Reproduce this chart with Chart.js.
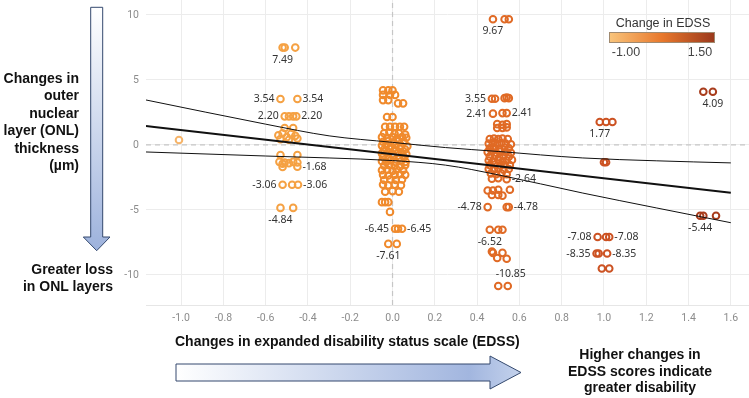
<!DOCTYPE html>
<html>
<head>
<meta charset="utf-8">
<script src="https://cdn.jsdelivr.net/npm/chart.js@4.4.1/dist/chart.umd.min.js"></script>
<style>
  body { margin: 0; background: #fff; }
  #wrap { position: relative; width: 749px; height: 398px; overflow: hidden; font-family: "Liberation Sans", Arial, sans-serif; }
  #chart { position: absolute; left: 0; top: 0; }
  #arrows { position: absolute; left: 0; top: 0; pointer-events: none; }
  .note { position: absolute; font-weight: bold; font-size: 14px; color: #111; white-space: nowrap; }
</style>
</head>
<body>
<div id="wrap">
  <canvas id="chart" width="749" height="398"></canvas>
  <svg id="arrows" width="749" height="398">
    <defs>
      <linearGradient id="gv" x1="0" y1="0" x2="0" y2="1">
        <stop offset="0" stop-color="#ffffff"/>
        <stop offset="1" stop-color="#9db2dc"/>
      </linearGradient>
      <linearGradient id="gh" x1="0" y1="0" x2="1" y2="0">
        <stop offset="0" stop-color="#ffffff"/>
        <stop offset="0.85" stop-color="#a2b6df"/>
        <stop offset="1" stop-color="#c4d2ec"/>
      </linearGradient>
    </defs>
    <path d="M90.7,7.3 H102.7 V237 H110 L96.7,250.7 L83.3,237 H90.7 Z" fill="url(#gv)" stroke="#34496e" stroke-width="1"/>
    <path d="M176,364 H490 V356 L521,372.5 L490,389 V381 H176 Z" fill="url(#gh)" stroke="#34496e" stroke-width="1"/>
  </svg>
  <div class="note" style="right:670px; top:70px; text-align:right; line-height:17.4px;">Changes in<br>outer<br>nuclear<br>layer (ONL)<br>thickness<br>(µm)</div>
  <div class="note" style="right:636px; top:261px; text-align:right; line-height:17px;">Greater loss<br>in ONL layers</div>
  <div class="note" style="left:175px; top:332px; line-height:18px;">Changes in expanded disability status scale (EDSS)</div>
  <div class="note" style="left:540px; top:346px; width:200px; text-align:center; line-height:16.5px;">Higher changes in<br>EDSS scores indicate<br>greater disability</div>
</div>
<script>
// axis ranges and ticks
const X_MIN = -1.166, X_MAX = 1.686;
const Y_MIN = -12.31, Y_MAX = 11.15;
const xTicks = [-1.0, -0.8, -0.6, -0.4, -0.2, 0.0, 0.2, 0.4, 0.6, 0.8, 1.0, 1.2, 1.4, 1.6];
const yTicks = [-10, -5, 0, 5, 10];

// colour key for change in EDSS
const legendTitle = 'Change in EDSS';
const legendLabels = ['-1.00', '1.50'];
const legendColors = ['#f9c57c', '#e8782c', '#9a381c'];

// one group per EDSS change level (x is jittered around the level)
const groupColors = ['#f6b469', '#f5a143', '#f08a2c', '#e06a25', '#cc5222', '#a83c1c'];

const gM10x = [-1.01];
const gM10y = [0.38];

const gM05x = [-0.52, -0.51, -0.46, -0.53, -0.45, -0.51, -0.49, -0.47, -0.455, -0.51, -0.47,
  -0.54, -0.52, -0.50, -0.48, -0.46, -0.45, -0.53, -0.49, -0.53, -0.45,
  -0.535, -0.52, -0.51, -0.49, -0.47, -0.45, -0.45, -0.52, -0.52, -0.475, -0.447, -0.53, -0.47];
const gM05y = [7.49, 7.49, 7.49, 3.54, 3.54, 2.20, 2.20, 2.20, 2.20, 1.3, 1.3,
  0.75, 0.9, 0.6, 0.85, 0.7, 0.5, 0.45, 0.4, -0.77, -0.77,
  -1.3, -1.45, -1.35, -1.4, -1.3, -1.35, -1.68, -1.7, -3.06, -3.06, -3.06, -4.84, -4.84];

const g00x = [-0.045, -0.02, 0.0, -0.045, -0.012, 0.012, -0.045, -0.02, 0.026, 0.05, -0.026, 0.0,
  -0.035, -0.012, 0.012, 0.035, 0.055,
  -0.04, -0.015, 0.01, 0.03, 0.06,
  -0.05, -0.025, 0.0, 0.02, 0.045, 0.065,
  -0.045, -0.02, 0.005, 0.03, 0.055,
  -0.05, -0.03, -0.005, 0.015, 0.04, 0.07,
  -0.04, -0.015, 0.01, 0.035, 0.06,
  -0.05, -0.025, 0.0, 0.025, 0.045, 0.065,
  -0.045, -0.02, 0.005, 0.03, 0.055,
  -0.05, -0.03, -0.01, 0.015, 0.04, 0.062,
  -0.04, -0.015, 0.01, 0.035, 0.06,
  -0.05, -0.025, 0.0, 0.02, 0.05,
  -0.045, -0.02, 0.01, 0.035, 0.06,
  -0.04, -0.01, 0.015, 0.045,
  -0.045, -0.02, 0.01, 0.04,
  -0.035, 0.0, 0.03,
  -0.05, -0.035, -0.02, -0.012,
  0.012, 0.026, 0.045, -0.02, 0.02];
const g00y = [4.2, 4.2, 4.2, 3.85, 3.85, 3.85, 3.45, 3.45, 3.2, 3.2, 2.15, 2.15,
  1.4, 1.4, 1.4, 1.4, 1.4,
  0.9, 0.95, 0.85, 0.9, 0.8,
  0.6, 0.55, 0.6, 0.5, 0.6, 0.55,
  0.25, 0.3, 0.2, 0.3, 0.25,
  -0.05, 0.0, -0.1, 0.0, -0.05, -0.1,
  -0.35, -0.3, -0.4, -0.3, -0.35,
  -0.65, -0.6, -0.7, -0.6, -0.65, -0.7,
  -0.95, -1.0, -0.9, -1.0, -0.95,
  -1.25, -1.3, -1.2, -1.3, -1.25, -1.3,
  -1.6, -1.55, -1.6, -1.65, -1.55,
  -1.95, -1.9, -2.0, -1.9, -1.95,
  -2.3, -2.35, -2.3, -2.25, -2.3,
  -2.7, -2.65, -2.7, -2.65,
  -3.05, -3.1, -3.05, -3.1,
  -3.6, -3.55, -3.6,
  -4.4, -4.4, -4.4, -5.15,
  -6.45, -6.45, -6.45, -7.61, -7.61];

const g05x = [0.475, 0.53, 0.55, 0.47, 0.485, 0.53, 0.54, 0.55, 0.475, 0.52, 0.54,
  0.495, 0.52, 0.54, 0.495, 0.52, 0.54,
  0.46, 0.48, 0.50, 0.52, 0.545,
  0.455, 0.475, 0.495, 0.515, 0.535, 0.56,
  0.46, 0.48, 0.505, 0.53, 0.55,
  0.45, 0.47, 0.49, 0.51, 0.535, 0.56,
  0.46, 0.485, 0.505, 0.525, 0.55,
  0.455, 0.475, 0.5, 0.52, 0.54, 0.565,
  0.46, 0.485, 0.51, 0.53, 0.555,
  0.455, 0.48, 0.5, 0.525, 0.55,
  0.465, 0.49, 0.515, 0.54,
  0.47, 0.5, 0.54,
  0.45, 0.475, 0.5, 0.555, 0.47, 0.5, 0.52,
  0.45, 0.54, 0.55, 0.46, 0.5, 0.52,
  0.47, 0.475, 0.52, 0.495, 0.54, 0.5, 0.545];
const g05y = [9.67, 9.67, 9.67, 3.55, 3.55, 3.6, 3.65, 3.6, 2.41, 2.45, 2.45,
  1.6, 1.55, 1.6, 1.3, 1.3, 1.35,
  0.45, 0.5, 0.45, 0.5, 0.45,
  0.1, 0.15, 0.05, 0.15, 0.1, 0.05,
  -0.25, -0.2, -0.3, -0.2, -0.25,
  -0.55, -0.5, -0.6, -0.5, -0.55, -0.6,
  -0.9, -0.85, -0.95, -0.85, -0.9,
  -1.2, -1.25, -1.15, -1.25, -1.2, -1.15,
  -1.55, -1.5, -1.6, -1.5, -1.55,
  -1.85, -1.9, -1.8, -1.9, -1.85,
  -2.2, -2.25, -2.2, -2.25,
  -2.6, -2.55, -2.64,
  -3.5, -3.5, -3.45, -3.45, -3.85, -3.85, -3.9,
  -4.78, -4.78, -4.78, -6.52, -6.52, -6.52,
  -8.2, -8.3, -8.3, -8.7, -8.75, -10.85, -10.85];

const g10x = [0.98, 1.01, 1.04, 1.0, 1.01, 0.97, 1.01, 1.025, 0.965, 0.975, 1.015, 0.99, 1.025];
const g10y = [1.77, 1.77, 1.77, -1.33, -1.33, -7.08, -7.08, -7.08, -8.35, -8.35, -8.35, -9.5, -9.5];

const g15x = [1.47, 1.515, 1.455, 1.47, 1.53];
const g15y = [4.09, 4.09, -5.44, -5.44, -5.44];

// fitted line and its confidence band
const fitX = [-1.166, 1.6];
const fitY = [1.46, -3.67];
const bandX = [-1.166, -0.6, -0.3, 0, 0.25, 0.5, 0.9, 1.25, 1.6];
const bandUp = [3.46, 1.6, 0.7, 0.2, -0.2, -0.5, -1.0, -1.22, -1.38];
const bandLo = [-0.54, -0.85, -1.0, -1.2, -1.55, -2.3, -3.7, -4.85, -5.98];

// value labels: text, x, y, side
const valueLabels = [
  ['7.49', -0.52, 7.49, 'below'],
  ['3.54', -0.53, 3.54, 'left'], ['3.54', -0.45, 3.54, 'right'],
  ['2.20', -0.51, 2.20, 'left'], ['2.20', -0.455, 2.20, 'right'],
  ['-1.68', -0.45, -1.68, 'right'],
  ['-3.06', -0.52, -3.06, 'left'], ['-3.06', -0.447, -3.06, 'right'],
  ['-4.84', -0.53, -4.84, 'below'],
  ['9.67', 0.475, 9.67, 'below'],
  ['3.55', 0.47, 3.55, 'left'],
  ['2.41', 0.475, 2.41, 'left'], ['2.41', 0.54, 2.45, 'right'],
  ['-2.64', 0.54, -2.64, 'right'],
  ['-4.78', 0.45, -4.78, 'left'], ['-4.78', 0.55, -4.78, 'right'],
  ['-6.52', 0.46, -6.52, 'below'],
  ['-10.85', 0.545, -10.85, 'above'],
  ['-6.45', 0.012, -6.45, 'left'], ['-6.45', 0.045, -6.45, 'right'],
  ['-7.61', -0.02, -7.61, 'below'],
  ['1.77', 0.98, 1.77, 'below'],
  ['4.09', 1.515, 4.09, 'below'],
  ['-7.08', 0.97, -7.08, 'left'], ['-7.08', 1.025, -7.08, 'right'],
  ['-8.35', 0.965, -8.35, 'left'], ['-8.35', 1.015, -8.35, 'right'],
  ['-5.44', 1.455, -5.44, 'below']
];

const zip = (xs, ys) => xs.map((x, i) => ({ x: x, y: ys[i] }));

const groups = [[gM10x, gM10y], [gM05x, gM05y], [g00x, g00y], [g05x, g05y], [g10x, g10y], [g15x, g15y]];
const pointSets = groups.map((g, i) => ({
  type: 'scatter',
  data: zip(g[0], g[1]),
  borderColor: groupColors[i],
  backgroundColor: 'rgba(0,0,0,0)',
  borderWidth: 2,
  pointRadius: 3.3,
  order: 2
}));

const lineSet = (data, width) => ({
  type: 'line',
  data: data,
  borderColor: '#111',
  borderWidth: width,
  pointRadius: 0,
  fill: false,
  cubicInterpolationMode: 'monotone',
  order: 1
});

const zeroSet = (data) => ({
  type: 'line',
  data: data,
  borderColor: '#c6c6c6',
  borderWidth: 1.2,
  borderDash: [5, 4],
  pointRadius: 0,
  fill: false,
  order: 3
});

const labelPlugin = {
  id: 'valueLabels',
  afterDatasetsDraw(chart) {
    const { ctx, scales: { x, y } } = chart;
    ctx.save();
    ctx.font = '10.5px "Noto Sans", sans-serif';
    ctx.fillStyle = '#333';
    ctx.textBaseline = 'middle';
    valueLabels.forEach(([t, vx, vy, side]) => {
      const px = x.getPixelForValue(vx), py = y.getPixelForValue(vy);
      if (side === 'left') { ctx.textAlign = 'right'; ctx.fillText(t, px - 6, py); }
      else if (side === 'right') { ctx.textAlign = 'left'; ctx.fillText(t, px + 5, py); }
      else if (side === 'below') { ctx.textAlign = 'center'; ctx.fillText(t, px, py + 12); }
      else { ctx.textAlign = 'center'; ctx.fillText(t, px + 3, py - 12); }
    });
    ctx.restore();
  }
};

const colourKey = {
  id: 'colourKey',
  afterDraw(chart) {
    const ctx = chart.ctx;
    ctx.save();
    ctx.font = '12.5px "Liberation Sans", Arial, sans-serif';
    ctx.fillStyle = '#333';
    ctx.textAlign = 'center';
    ctx.textBaseline = 'middle';
    ctx.fillText(legendTitle, 663, 24);
    const g = ctx.createLinearGradient(609, 0, 715, 0);
    legendColors.forEach((c, i) => g.addColorStop(i / (legendColors.length - 1), c));
    ctx.fillStyle = g;
    ctx.fillRect(609, 32, 106, 11);
    ctx.strokeStyle = '#a08a70';
    ctx.lineWidth = 1;
    ctx.strokeRect(609.5, 32.5, 105, 10);
    ctx.fillStyle = '#444';
    ctx.fillText(legendLabels[0], 626, 53);
    ctx.fillText(legendLabels[1], 700, 53);
    ctx.restore();
  }
};

const setTicks = (values) => (scale) => {
  scale.ticks = values.map(v => ({ value: v }));
};

new Chart(document.getElementById('chart'), {
  type: 'scatter',
  data: {
    datasets: [
      lineSet(zip(fitX, fitY), 2),
      lineSet(zip(bandX, bandUp), 1),
      lineSet(zip(bandX, bandLo), 1),
      ...pointSets,
      zeroSet([{ x: X_MIN, y: 0 }, { x: X_MAX, y: 0 }]),
      zeroSet([{ x: 0, y: Y_MIN }, { x: 0, y: Y_MAX }])
    ]
  },
  options: {
    responsive: false,
    animation: false,
    layout: { padding: 0, autoPadding: false },
    plugins: { legend: { display: false }, tooltip: { enabled: false } },
    scales: {
      x: {
        type: 'linear',
        min: X_MIN,
        max: X_MAX,
        ticks: {
          padding: 7,
          color: '#8c8c8c',
          font: { size: 10.5, family: 'Roboto' },
          callback: v => Math.abs(v) < 1e-9 ? '0.0' : v.toFixed(1)
        },
        afterBuildTicks: setTicks(xTicks),
        afterFit: s => { s.height = 93; s.paddingLeft = 0; s.paddingRight = 0; },
        grid: { color: '#ececec', drawTicks: false },
        border: { display: true, color: '#e6e6e6' }
      },
      y: {
        type: 'linear',
        min: Y_MIN,
        max: Y_MAX,
        ticks: {
          padding: 7,
          color: '#8c8c8c',
          font: { size: 10.5, family: 'Roboto' }
        },
        afterBuildTicks: setTicks(yTicks),
        afterFit: s => { s.width = 146; s.paddingTop = 0; s.paddingBottom = 0; },
        grid: { color: '#ececec', drawTicks: false },
        border: { display: false }
      }
    }
  },
  plugins: [labelPlugin, colourKey]
});
</script>
</body>
</html>
